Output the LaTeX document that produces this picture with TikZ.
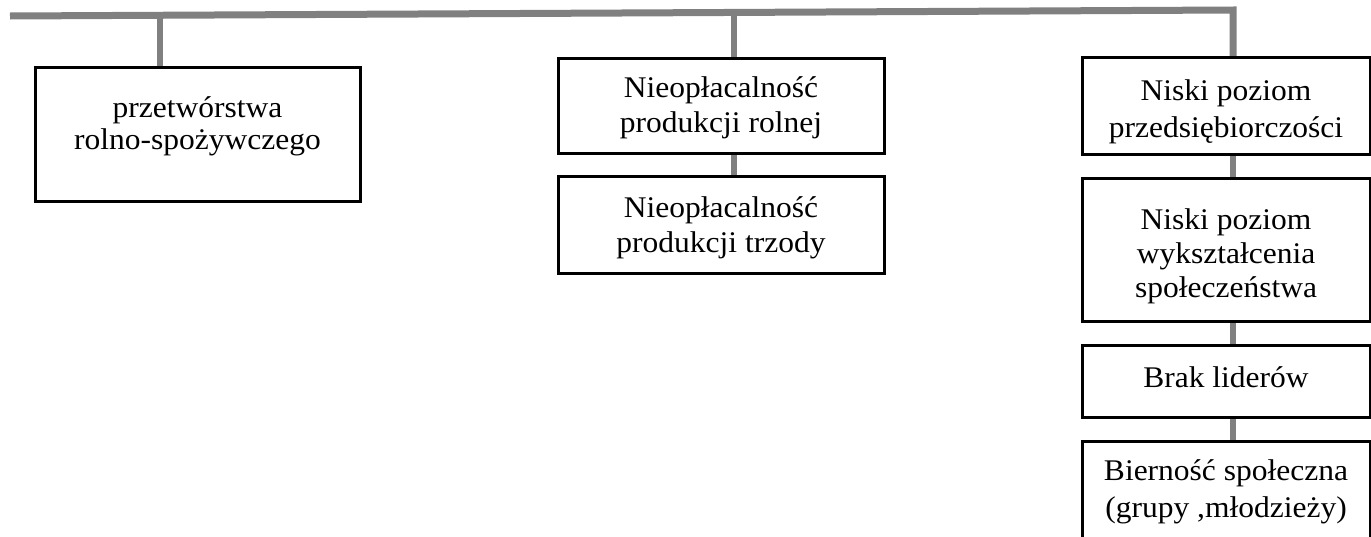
\documentclass[tikz,border=0pt]{standalone}
\usepackage{fontspec}
\setmainfont{Liberation Serif}[FakeStretch=1.05]
\usetikzlibrary{backgrounds,calc}
\begin{document}
\begin{tikzpicture}[x=1pt,y=-1pt,
  boxst/.style={draw=black,line width=3pt,fill=white,inner sep=0pt,rectangle},
  txt/.style={inner sep=0pt,align=center,anchor=base,font=\fontsize{30}{35}\selectfont},
  conn/.style={draw=gray,line width=6pt,line cap=butt},
  barst/.style={draw=gray,line width=7pt,line cap=butt,line join=miter}]
\useasboundingbox (0,0) rectangle (1371,536);
% boxes
\node[boxst,minimum width=325pt,minimum height=133.5pt] (b1) at (197.5,134.25) {};
\node[boxst,minimum width=326pt,minimum height=95pt] (b2) at (721,106) {};
\node[boxst,minimum width=326pt,minimum height=97pt] (b3) at (721,225) {};
\node[boxst,minimum width=288pt,minimum height=96.5pt] (bA) at (1226,105.75) {};
\node[boxst,minimum width=288pt,minimum height=143pt] (bB) at (1226,249.5) {};
\node[boxst,minimum width=288pt,minimum height=72pt] (bC) at (1226,381.5) {};
\node[boxst,minimum width=288pt,minimum height=118.5pt] (bD) at (1226,500.75) {};
% texts (anchor base = baseline of last line)
\node[txt,font=\fontsize{30}{32}\selectfont] (t1) at (197.5,149) {przetwórstwa\\rolno-spożywczego};
\node[txt] (t2) at (721,132) {Nieopłacalność\\produkcji rolnej};
\node[txt] (t3) at (721,252) {Nieopłacalność\\produkcji trzody};
\node[txt,font=\fontsize{30}{37}\selectfont] (tA) at (1226,137) {Niski poziom\\przedsiębiorczości};
\node[txt,font=\fontsize{30}{34}\selectfont] (tB) at (1226,297) {Niski poziom\\wykształcenia\\społeczeństwa};
\node[txt] (tC) at (1226,387.5) {Brak liderów};
\node[txt,font=\fontsize{30}{37}\selectfont] (tD) at (1226,517) {Bierność społeczna\\(grupy ,młodzieży)};
% connectors
\coordinate (barL) at (10,16);
\coordinate (barR) at (1233,10);
\coordinate (j1) at (160,15.3);
\coordinate (j2) at (733.5,12.45);
\begin{scope}[on background layer]
\draw[barst] (barL) -- (barR) -- (barR |- bA.north);
\draw[conn] (j1) -- (j1 |- b1.north);
\draw[conn] (j2) -- (j2 |- b2.north);
\draw[conn] (j2 |- b2.south) -- (j2 |- b3.north);
\draw[conn] (barR |- bA.south) -- (barR |- bB.north);
\draw[conn] (barR |- bB.south) -- (barR |- bC.north);
\draw[conn] (barR |- bC.south) -- (barR |- bD.north);
\end{scope}
\end{tikzpicture}
\end{document}
